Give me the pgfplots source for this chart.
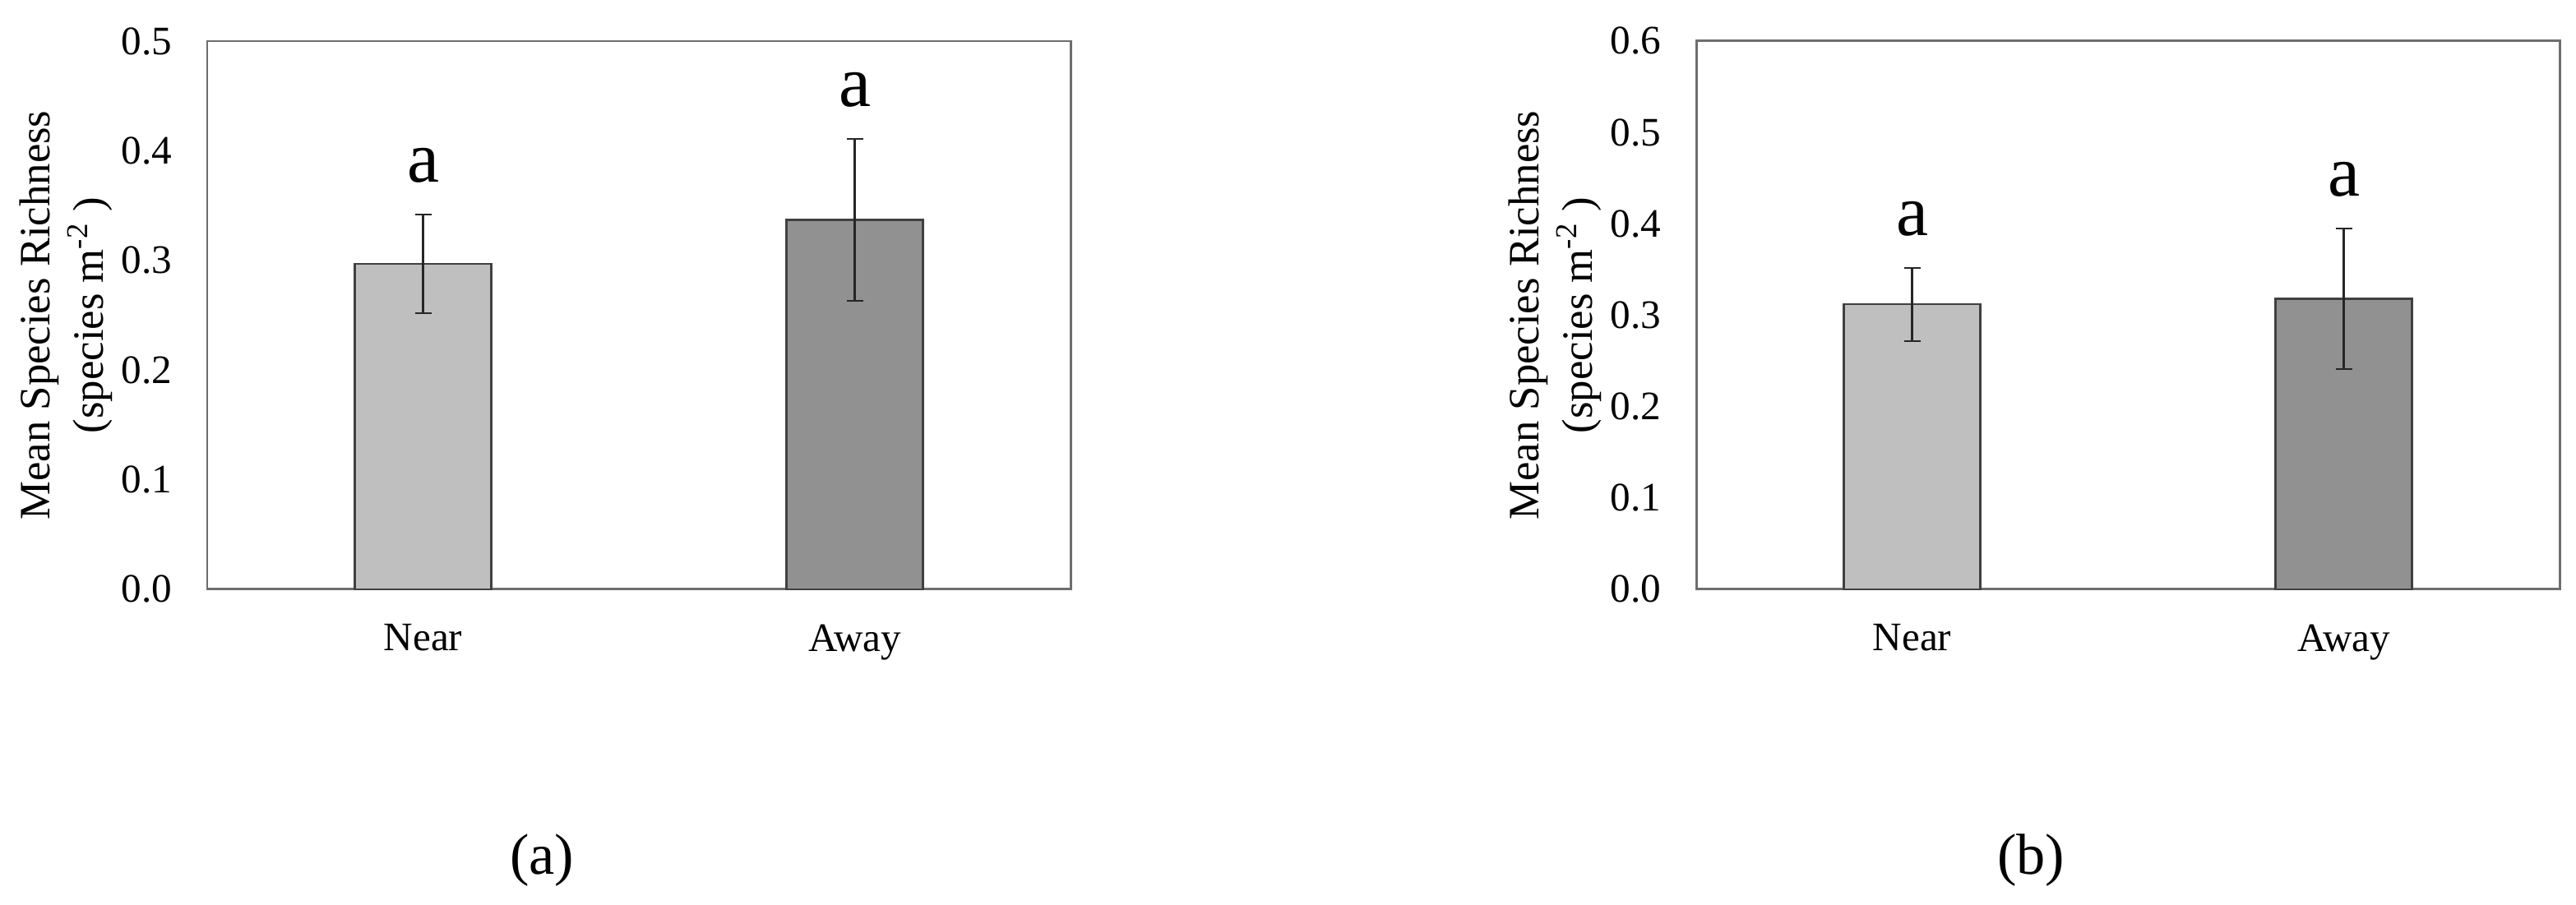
\documentclass[border=0pt]{standalone}
\usepackage{fontspec}
\setmainfont{Liberation Serif}
\usepackage{pgfplots}
\pgfplotsset{compat=1.18}

\definecolor{nearfill}{RGB}{191,191,191}
\definecolor{awayfill}{RGB}{145,145,145}
\definecolor{baredge}{RGB}{64,64,64}
\definecolor{framegray}{RGB}{110,110,110}

\pgfplotsset{
  richness/.style={
    scale only axis,
    width=10.5cm, height=6.67cm,
    anchor=south west,
    xmin=-0.5, xmax=1.5,
    ymin=0,
    ytick distance=0.1,
    xtick={0,1},
    xticklabels={Near,Away},
    major tick length=0pt,
    axis line style={draw=framegray, line width=0.85pt},
    tick label style={font=\fontsize{14}{16}\selectfont, inner sep=0pt},
    yticklabel style={xshift=-0.42cm,
      /pgf/number format/fixed,
      /pgf/number format/fixed zerofill,
      /pgf/number format/precision=1,
      /pgf/number format/assume math mode=true},
    xticklabel style={yshift=-0.42cm},
    ylabel={Mean Species Richness\\(species m\textsuperscript{-2} )},
    every axis y label/.style={at={([xshift=-1.72cm]axis description cs:0,0.5)},
      anchor=center, rotate=90, align=center,
      font=\fontsize{15}{18.5}\selectfont},
    clip=false,
  },
  richbar/.style={ybar, bar width=1.66cm, bar shift=0pt, draw=baredge, line width=0.7pt,
    error bars/y dir=both, error bars/y explicit,
    error bars/error bar style={line width=0.6pt, black!85},
    error bars/error mark options={rotate=90, mark size=0.1cm, line width=0.6pt, black!85}},
  letters/.style={draw=none, mark=none, nodes near coords={a},
    nodes near coords style={anchor=south, inner sep=0pt, yshift=0.38cm,
      text=black, font=\fontsize{25}{30}\selectfont}},
}

\begin{document}
\begin{tikzpicture}
\useasboundingbox (0,0) rectangle (31.33,11.01);

% (a)
\begin{axis}[richness, at={(2.52cm,3.84cm)}, ymax=0.5]
\addplot[fill=nearfill, richbar] coordinates {(0,0.297) +- (0,0.045)};
\addplot[fill=awayfill, richbar] coordinates {(1,0.337) +- (0,0.074)};
\addplot[letters] coordinates {(0,0.342) (1,0.411)};
\end{axis}

% (b)
\begin{axis}[richness, at={(20.63cm,3.84cm)}, ymax=0.6]
\addplot[fill=nearfill, richbar] coordinates {(0,0.312) +- (0,0.040)};
\addplot[fill=awayfill, richbar] coordinates {(1,0.318) +- (0,0.077)};
\addplot[letters] coordinates {(0,0.352) (1,0.395)};
\end{axis}

\node[font=\fontsize{20}{24}\selectfont] at (6.59,0.54) {(a)};
\node[font=\fontsize{20}{24}\selectfont] at (24.70,0.54) {(b)};
\end{tikzpicture}
\end{document}
